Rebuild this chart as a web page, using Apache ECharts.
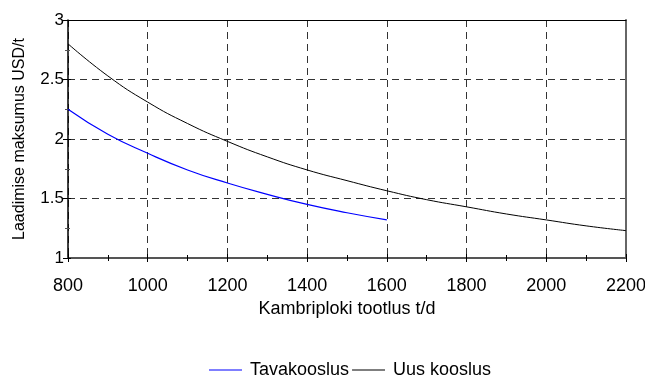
<!DOCTYPE html>
<html>
<head>
<meta charset="utf-8">
<script src="https://cdn.jsdelivr.net/npm/echarts@6/dist/echarts.min.js"></script>
<style>
  html, body { margin: 0; padding: 0; background: #fff; }
  #chart { width: 645px; height: 378px; }
</style>
</head>
<body>
<div id="chart"></div>
<script>
// Loading cost versus Cambrian block output
const outputTd = [800, 900, 1000, 1100, 1200, 1300, 1400, 1500, 1600, 1700, 1800, 1900, 2000, 2100, 2200];
const tavakooslus = [2.25, 2.04, 1.88, 1.74, 1.63, 1.535, 1.45, 1.38, 1.32];
const uusKooslus = [2.80, 2.53, 2.31, 2.13, 1.98, 1.85, 1.74, 1.65, 1.565, 1.49, 1.43, 1.37, 1.32, 1.27, 1.23];
const seriesNames = ['Tavakooslus', 'Uus kooslus'];
const seriesColors = ['#0000ff', '#000000'];
const xTitle = 'Kambriploki tootlus t/d';
const yTitle = 'Laadimise maksumus USD/t';

const pairs = (vals) => vals.map((v, i) => [outputTd[i], v]);
const FONT = 'Liberation Sans';
const gridDash = { color: '#333', type: [7, 5], width: 1 };
const plainNum = (v) => String(v);

// helper axes: drawn only for frame edges and the inner half of the crossing ticks
const hiddenX = (extra) => Object.assign({
  type: 'value', min: 800, max: 2200, interval: 200,
  axisLabel: { show: false }, splitLine: { show: false }
}, extra);
const hiddenY = (extra) => Object.assign({
  type: 'value', min: 1, max: 3, interval: 0.5,
  axisLabel: { show: false }, splitLine: { show: false }
}, extra);

const chart = echarts.init(document.getElementById('chart'), null, { renderer: 'canvas' });
chart.setOption({
  animation: false,
  textStyle: { fontFamily: FONT },
  grid: { left: 68, right: 19, top: 20, bottom: 120, outerBoundsMode: 'none', containLabel: false },
  legend: {
    top: 361,
    left: 209,
    itemGap: 3,
    itemWidth: 33,
    itemHeight: 1,
    icon: 'rect',
    padding: 0,
    textStyle: { fontFamily: FONT, fontSize: 18, color: '#000', padding: [0, 0, 0, 3] },
    data: seriesNames.map((n, i) => ({ name: n, itemStyle: { color: seriesColors[i] } }))
  },
  xAxis: [{
    type: 'value',
    min: 800, max: 2200, interval: 200,
    name: xTitle,
    nameLocation: 'middle',
    nameGap: 39,
    nameTextStyle: { fontSize: 18, color: '#000' },
    axisLine: { lineStyle: { color: '#555', width: 2 } },
    axisTick: { show: true, length: 4, lineStyle: { color: '#000' } },
    minorTick: { show: true, splitNumber: 2, length: 3, lineStyle: { color: '#000' } },
    axisLabel: { fontSize: 18, color: '#000', margin: 19, formatter: plainNum },
    splitLine: { show: true, lineStyle: gridDash }
  },
  hiddenX({
    position: 'top',
    axisLine: { show: true, onZero: false, lineStyle: { color: '#000', width: 1 } },
    axisTick: { show: false }
  }),
  hiddenX({
    position: 'bottom',
    axisLine: { show: false, onZero: false },
    axisTick: { show: true, inside: true, length: 4, lineStyle: { color: '#000' } },
    minorTick: { show: true, splitNumber: 2, length: 3, lineStyle: { color: '#000' } }
  })],
  yAxis: [{
    type: 'value',
    min: 1, max: 3, interval: 0.5,
    name: yTitle,
    nameLocation: 'middle',
    nameGap: 40,
    nameTextStyle: { fontSize: 16, color: '#000' },
    axisLine: { show: true, lineStyle: { color: '#000', width: 1.5 } },
    axisTick: { show: true, length: 5, lineStyle: { color: '#000' } },
    minorTick: { show: true, splitNumber: 2, length: 3, lineStyle: { color: '#555' } },
    axisLabel: { fontSize: 17, color: '#000', margin: 4, formatter: plainNum },
    splitLine: { show: true, lineStyle: gridDash }
  },
  hiddenY({
    position: 'right',
    axisLine: { show: true, onZero: false, lineStyle: { color: '#666', width: 2 } },
    axisTick: { show: false }
  }),
  hiddenY({
    position: 'left',
    axisLine: { show: false, onZero: false },
    axisTick: { show: true, inside: true, length: 3, lineStyle: { color: '#000' } },
    minorTick: { show: true, splitNumber: 2, length: 2, lineStyle: { color: '#555' } }
  })],
  series: [{
    name: seriesNames[0],
    type: 'line',
    smooth: true,
    showSymbol: false,
    color: seriesColors[0],
    lineStyle: { color: seriesColors[0], width: 1.2 },
    data: pairs(tavakooslus)
  }, {
    name: seriesNames[1],
    type: 'line',
    smooth: true,
    showSymbol: false,
    color: seriesColors[1],
    lineStyle: { color: seriesColors[1], width: 1 },
    data: pairs(uusKooslus)
  }]
});
</script>
</body>
</html>
